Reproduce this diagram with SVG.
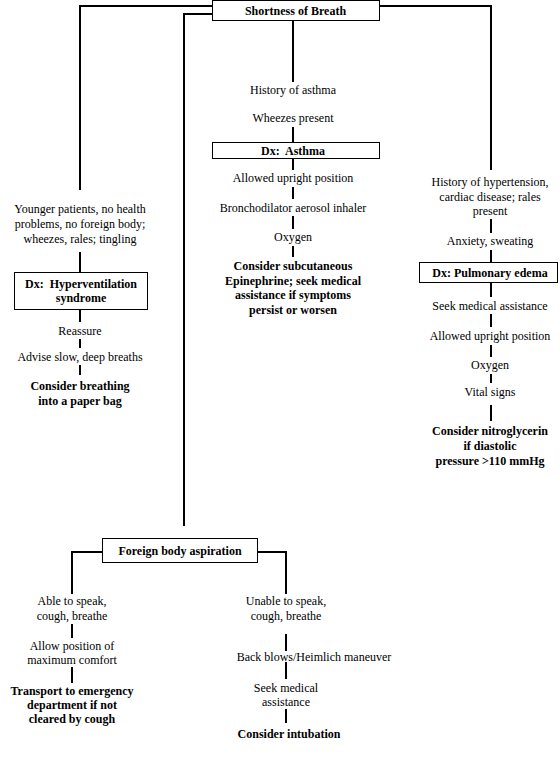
<svg xmlns="http://www.w3.org/2000/svg" width="560" height="762" viewBox="0 0 560 762">
<style>
.t{font-family:"Liberation Serif","Times New Roman",serif;font-size:12px;text-anchor:middle;fill:#000;white-space:pre}
.b{font-weight:bold}
.box{fill:#fff;stroke:#000;stroke-width:1}
.c path{stroke:#000;stroke-width:2;fill:none}
</style>
<rect width="560" height="762" fill="#fff"/>
<g class="c" id="connectors">
<path d="M212,6 H80 V190"/>
<path d="M212,14 H184 V526"/>
<path d="M379,6 H491 V170"/>
<path d="M293,20 V82"/>
<path d="M293,127 V142"/>
<path d="M293,159 V170"/>
<path d="M293,187 V199"/>
<path d="M293,216 V229"/>
<path d="M293,246 V257"/>
<path d="M80,252 V272"/>
<path d="M80,310 V322"/>
<path d="M80,339 V348"/>
<path d="M80,365 V375"/>
<path d="M491,219 V233"/>
<path d="M491,250 V262"/>
<path d="M491,283 V297"/>
<path d="M491,314 V327"/>
<path d="M491,345 V357"/>
<path d="M491,374 V383"/>
<path d="M491,405 V421"/>
<path d="M102,552 H72 V594"/>
<path d="M257,552 H286 V594"/>
<path d="M72,624 V638"/>
<path d="M72,667 V683"/>
<path d="M286,634 V651"/>
<path d="M286,662 V679"/>
<path d="M286,709 V723"/>
</g>
<g id="shortness">
<rect class="box" x="212.5" y="0.5" width="167" height="20"/>
<text class="t b" x="295.5" y="15">Shortness of Breath</text>
</g>
<g id="history-asthma"><text class="t" x="293" y="94">History of asthma</text></g>
<g id="wheezes"><text class="t" x="293" y="122">Wheezes present</text></g>
<g id="dx-asthma">
<rect class="box" x="212.5" y="142.5" width="167" height="16"/>
<text class="t b" x="293" y="155">Dx:  Asthma</text>
</g>
<g id="asthma-upright"><text class="t" x="293" y="182">Allowed upright position</text></g>
<g id="asthma-broncho"><text class="t" x="293" y="212">Bronchodilator aerosol inhaler</text></g>
<g id="asthma-oxygen"><text class="t" x="293" y="241">Oxygen</text></g>
<g id="asthma-epi">
<text class="t b" x="293" y="270">Consider subcutaneous</text>
<text class="t b" x="293" y="285">Epinephrine; seek medical</text>
<text class="t b" x="293" y="299">assistance if symptoms</text>
<text class="t b" x="293" y="314">persist or worsen</text>
</g>
<g id="younger">
<text class="t" x="80" y="213">Younger patients, no health</text>
<text class="t" x="80" y="228">problems, no foreign body;</text>
<text class="t" x="80" y="243">wheezes, rales; tingling</text>
</g>
<g id="dx-hyper">
<rect class="box" x="14.5" y="272.5" width="133" height="37"/>
<text class="t b" x="81" y="288">Dx:  Hyperventilation</text>
<text class="t b" x="81" y="302">syndrome</text>
</g>
<g id="reassure"><text class="t" x="80" y="335">Reassure</text></g>
<g id="advise"><text class="t" x="80" y="361">Advise slow, deep breaths</text></g>
<g id="paper-bag">
<text class="t b" x="80" y="390">Consider breathing</text>
<text class="t b" x="80" y="405">into a paper bag</text>
</g>
<g id="history-htn">
<text class="t" x="490" y="186">History of hypertension,</text>
<text class="t" x="490" y="201">cardiac disease; rales</text>
<text class="t" x="490" y="215">present</text>
</g>
<g id="anxiety"><text class="t" x="490" y="245">Anxiety, sweating</text></g>
<g id="dx-pulm">
<rect class="box" x="419.5" y="262.5" width="138" height="20"/>
<text class="t b" x="490" y="277">Dx: Pulmonary edema</text>
</g>
<g id="pulm-seek"><text class="t" x="490" y="310">Seek medical assistance</text></g>
<g id="pulm-upright"><text class="t" x="490" y="340">Allowed upright position</text></g>
<g id="pulm-oxygen"><text class="t" x="490" y="369">Oxygen</text></g>
<g id="pulm-vital"><text class="t" x="490" y="396">Vital signs</text></g>
<g id="pulm-nitro">
<text class="t b" x="490" y="435">Consider nitroglycerin</text>
<text class="t b" x="490" y="450">if diastolic</text>
<text class="t b" x="490" y="465">pressure &gt;110 mmHg</text>
</g>
<g id="fba">
<rect class="box" x="102.5" y="538.5" width="155" height="24"/>
<text class="t b" x="180" y="555">Foreign body aspiration</text>
</g>
<g id="able">
<text class="t" x="72" y="605">Able to speak,</text>
<text class="t" x="72" y="620">cough, breathe</text>
</g>
<g id="allow-pos">
<text class="t" x="72" y="650">Allow position of</text>
<text class="t" x="72" y="664">maximum comfort</text>
</g>
<g id="transport">
<text class="t b" x="72" y="695">Transport to emergency</text>
<text class="t b" x="72" y="709">department if not</text>
<text class="t b" x="72" y="723">cleared by cough</text>
</g>
<g id="unable">
<text class="t" x="286" y="605">Unable to speak,</text>
<text class="t" x="286" y="620">cough, breathe</text>
</g>
<g id="back-blows"><text class="t" x="314" y="661">Back blows/Heimlich maneuver</text></g>
<g id="fba-seek">
<text class="t" x="286" y="692">Seek medical</text>
<text class="t" x="286" y="706">assistance</text>
</g>
<g id="intubation"><text class="t b" x="289" y="738">Consider intubation</text></g>
</svg>
